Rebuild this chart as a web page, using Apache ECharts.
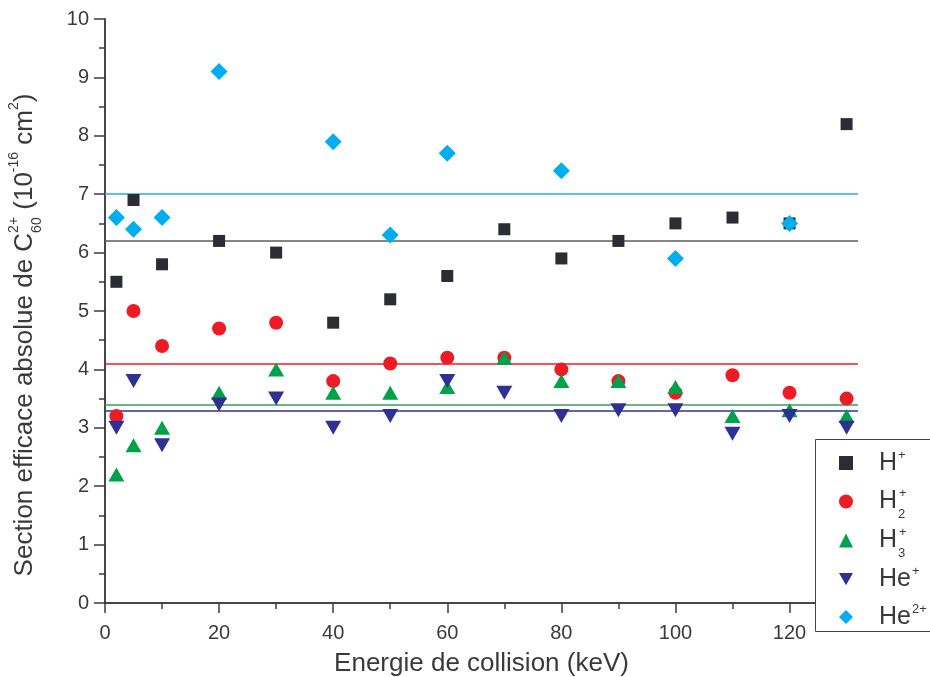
<!DOCTYPE html>
<html>
<head>
<meta charset="utf-8">
<script src="https://cdn.jsdelivr.net/npm/echarts@6/dist/echarts.min.js"></script>
<style>
html,body{margin:0;padding:0;background:#fff;}
#chart{width:930px;height:677px;}
</style>
</head>
<body>
<div id="chart"></div>
<script>
// ---- data ----
const energies = [2, 5, 10, 20, 30, 40, 50, 60, 70, 80, 90, 100, 110, 120, 130];
const hPlus   = [5.5, 6.9, 5.8, 6.2, 6.0, 4.8, 5.2, 5.6, 6.4, 5.9, 6.2, 6.5, 6.6, 6.5, 8.2];
const h2Plus  = [3.2, 5.0, 4.4, 4.7, 4.8, 3.8, 4.1, 4.2, 4.2, 4.0, 3.8, 3.6, 3.9, 3.6, 3.5];
const h3Plus  = [2.2, 2.7, 3.0, 3.6, 4.0, 3.6, 3.6, 3.7, 4.2, 3.8, 3.8, 3.7, 3.2, 3.3, 3.2];
const hePlus  = [3.0, 3.8, 2.7, 3.4, 3.5, 3.0, 3.2, 3.8, 3.6, 3.2, 3.3, 3.3, 2.9, 3.2, 3.0];
const he2Plus = [6.6, 6.4, 6.6, 9.1, null, 7.9, 6.3, 7.7, null, 7.4, null, 5.9, null, 6.5, null];
const seriesNames = ['H+', 'H2+', 'H3+', 'He+', 'He2+'];
const averages = [6.2, 4.1, 3.4, 3.3, 7.0];
const xTitle = 'Energie de collision (keV)';

// ---- styles ----
const FONT = '"Liberation Sans", Arial, Helvetica, sans-serif';
const TXT = '#3a3a3a';
const AX = '#3a3a40';
const markerColors = ['#2c2c34', '#ed1c24', '#00a14b', '#2e3192', '#00aeef'];
const lineColors = ['#5c5c5c', '#ed1c24', '#3d9b5c', '#2e3192', '#29abe2'];
const symbols = ['rect', 'circle', 'triangle', 'path://M0,0L2,0L1,1.75Z', 'diamond'];
const sizes = [12, 14, [16, 14], [16, 14], 17];
const valueSets = [hPlus, h2Plus, h3Plus, hePlus, he2Plus];

const chart = echarts.init(document.getElementById('chart'), null, {renderer: 'canvas'});

function axisLine(show) {
  return {show: show, lineStyle: {color: AX, width: 1.5}};
}
function xAx(pos, interval, len, inside, label, line) {
  return {
    type: 'value', position: pos, min: 0, max: 132, interval: interval,
    axisLine: axisLine(line),
    axisTick: {show: true, inside: inside, length: len, lineStyle: {color: AX, width: 1.5}},
    axisLabel: label ? {
      show: true, fontSize: 20, fontFamily: FONT, color: TXT, margin: 20,
      showMaxLabel: false,
      formatter: v => (v % 20 === 0 ? String(v) : '')
    } : {show: false},
    splitLine: {show: false}
  };
}
function yAx(pos, interval, len, inside, label, line) {
  return {
    type: 'value', position: pos, min: 0, max: 10, interval: interval,
    axisLine: axisLine(line),
    axisTick: {show: true, inside: inside, length: len, lineStyle: {color: AX, width: 1.5}},
    axisLabel: label ? {
      show: true, fontSize: 20, fontFamily: FONT, color: TXT, margin: 16,
      formatter: v => (Math.abs(v - Math.round(v)) < 1e-9 ? String(Math.round(v)) : '')
    } : {show: false},
    splitLine: {show: false}
  };
}

const xAxes = [
  Object.assign(xAx('bottom', 20, 10, false, true, true), {
    name: xTitle, nameLocation: 'middle', nameGap: 48,
    nameTextStyle: {fontSize: 26, fontFamily: FONT, color: TXT}
  }),
  xAx('bottom', 10, 6, false, false, false),
  xAx('top', 20, 10, true, false, true),
  xAx('top', 10, 6, true, false, false)
];
const yAxes = [
  yAx('left', 1, 11, false, true, true),
  yAx('left', 0.5, 6, false, false, false),
  yAx('right', 1, 11, true, false, true),
  yAx('right', 0.5, 6, true, false, false)
];

const series = seriesNames.map((name, k) => ({
  type: 'scatter',
  name: name,
  xAxisIndex: 0, yAxisIndex: 0,
  symbol: symbols[k],
  symbolSize: sizes[k],
  itemStyle: {color: markerColors[k], opacity: 1},
  data: energies.map((e, i) => [e, valueSets[k][i]]).filter(d => d[1] != null),
  z: 2,
  markLine: {
    silent: true, symbol: 'none', z: 1,
    label: {show: false},
    lineStyle: {color: lineColors[k], width: 1.5, type: 'solid'},
    emphasis: {disabled: true},
    data: [{yAxis: averages[k]}]
  }
}));

// ---- y axis title built from pieces (sup/sub) ----
const measureCtx = document.createElement('canvas').getContext('2d');
function w(text, size) {
  measureCtx.font = size + 'px ' + FONT;
  return measureCtx.measureText(text).width;
}
const MAIN = 26, SMALL = 14;
const pieces = [
  {t: 'Section efficace absolue de C', s: MAIN, dy: 0},
  {stack: [{t: '2+', s: SMALL, dy: -11}, {t: '60', s: SMALL, dy: 12}]},
  {t: ' (10', s: MAIN, dy: 0},
  {t: '-16', s: SMALL, dy: -11},
  {t: ' cm', s: MAIN, dy: 0},
  {t: '2', s: SMALL, dy: -11},
  {t: ')', s: MAIN, dy: 0}
];
const children = [];
let cx = 0;
pieces.forEach(p => {
  const items = p.stack ? p.stack : [p];
  let maxW = 0;
  items.forEach(it => {
    children.push({
      type: 'text', x: cx, y: it.dy,
      style: {text: it.t, fontSize: it.s, fontFamily: FONT, fill: TXT, align: 'left', verticalAlign: 'middle'}
    });
    maxW = Math.max(maxW, w(it.t, it.s));
  });
  cx += maxW;
});
const totalLen = cx;
const titleCenterY = 335;

const LH = 38;
const legendRich = {
  m: {fontSize: 25, fontFamily: FONT, color: TXT, lineHeight: LH, padding: [0, 0, 0, 21]},
  sp: {fontSize: 13, fontFamily: FONT, color: TXT, lineHeight: 12, padding: [0, 0, 16, 1]},
  sb: {fontSize: 13, fontFamily: FONT, color: TXT, lineHeight: 12, padding: [26, 0, 0, 1], width: 0}
};
const legendFmt = {
  'H+': '{m|H}{sp|+}',
  'H2+': '{m|H}{sb|2}{sp|+}',
  'H3+': '{m|H}{sb|3}{sp|+}',
  'He+': '{m|He}{sp|+}',
  'He2+': '{m|He}{sp|2+}'
};

chart.setOption({
  animation: false,
  backgroundColor: '#fff',
  textStyle: {fontFamily: FONT},
  grid: {left: 105, right: 72, top: 19, bottom: 74, containLabel: false, outerBoundsMode: 'none'},
  xAxis: xAxes,
  yAxis: yAxes,
  legend: {
    orient: 'vertical', left: 815, top: 439,
    padding: [5, 0, 0, 24],
    itemGap: 0,
    itemWidth: 14, itemHeight: 14,
    selectedMode: false,
    data: seriesNames,
    formatter: name => legendFmt[name],
    textStyle: {color: TXT, fontFamily: FONT, lineHeight: LH, rich: legendRich},
    z: 5
  },
  graphic: [{
    type: 'rect', z: 3,
    shape: {x: 815.5, y: 439.5, width: 200, height: 192},
    style: {fill: '#fff', stroke: '#444', lineWidth: 1}
  }, {
    type: 'group', x: 25, y: titleCenterY + totalLen / 2, rotation: Math.PI / 2,
    children: children
  }],
  series: series
});
</script>
</body>
</html>
